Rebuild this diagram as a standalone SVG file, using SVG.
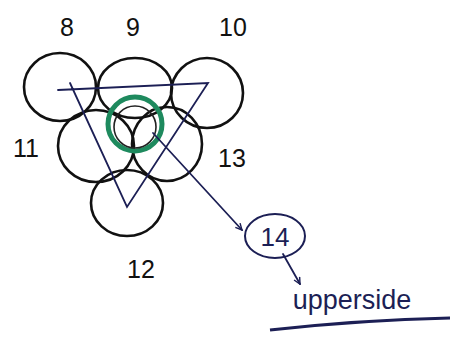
<svg xmlns="http://www.w3.org/2000/svg" width="451" height="338" viewBox="0 0 451 338">
<defs>
<style>
.c{fill:none;stroke:#111;stroke-width:2.6}
.l{fill:none;stroke:#1c1f55;stroke-width:1.8;stroke-linecap:round}
.t{font-family:"Liberation Sans",Arial,sans-serif;font-size:25px;fill:#111;text-anchor:middle}
.b{font-family:"Liberation Sans",Arial,sans-serif;fill:#1c1f55;text-anchor:middle}
</style>
<marker id="ah" viewBox="0 0 10 10" refX="9" refY="5" markerWidth="8" markerHeight="8" orient="auto" markerUnits="userSpaceOnUse">
<path d="M1,1 L9,5 L1,9" fill="none" stroke="#1c1f55" stroke-width="1.8"/>
</marker>
</defs>
<rect width="451" height="338" fill="#fff"/>
<g id="n8"><ellipse class="c" cx="60" cy="87" rx="36" ry="34"/><text class="t" x="67" y="36">8</text></g>
<g id="n9"><ellipse class="c" cx="135" cy="88" rx="37" ry="30"/><text class="t" x="133" y="36">9</text></g>
<g id="n10"><ellipse class="c" cx="207" cy="93" rx="36" ry="35"/><text class="t" x="233" y="36">10</text></g>
<g id="n11"><ellipse class="c" cx="96" cy="146" rx="38" ry="36"/><text class="t" x="26" y="157">11</text></g>
<g id="n13"><ellipse class="c" cx="167" cy="144" rx="35" ry="37"/><text class="t" x="232" y="167">13</text></g>
<g id="n12"><ellipse class="c" cx="127" cy="203" rx="36" ry="33"/><text class="t" x="141" y="278">12</text></g>
<g id="ring"><circle cx="135" cy="124" r="27" fill="none" stroke="#1e8a5e" stroke-width="5"/><circle cx="135" cy="127" r="21" fill="none" stroke="#222" stroke-width="1.6"/></g>
<g id="n14"><ellipse cx="275" cy="236" rx="30" ry="22" fill="none" stroke="#1c1f55" stroke-width="2"/><text class="b" x="275" y="246" font-size="26">14</text></g>
<g id="label"><text class="b" x="352" y="309" font-size="27">upperside</text></g>
<g id="connectors">
<polyline class="l" points="58,90 208,83 127,207 70,83"/>
<line class="l" x1="153" y1="133" x2="242" y2="230" marker-end="url(#ah)"/>
<line class="l" x1="283" y1="254" x2="300" y2="284" marker-end="url(#ah)"/>
<path d="M270,330 Q360,320 450,318" fill="none" stroke="#1c1f55" stroke-width="3"/>
</g>
</svg>
